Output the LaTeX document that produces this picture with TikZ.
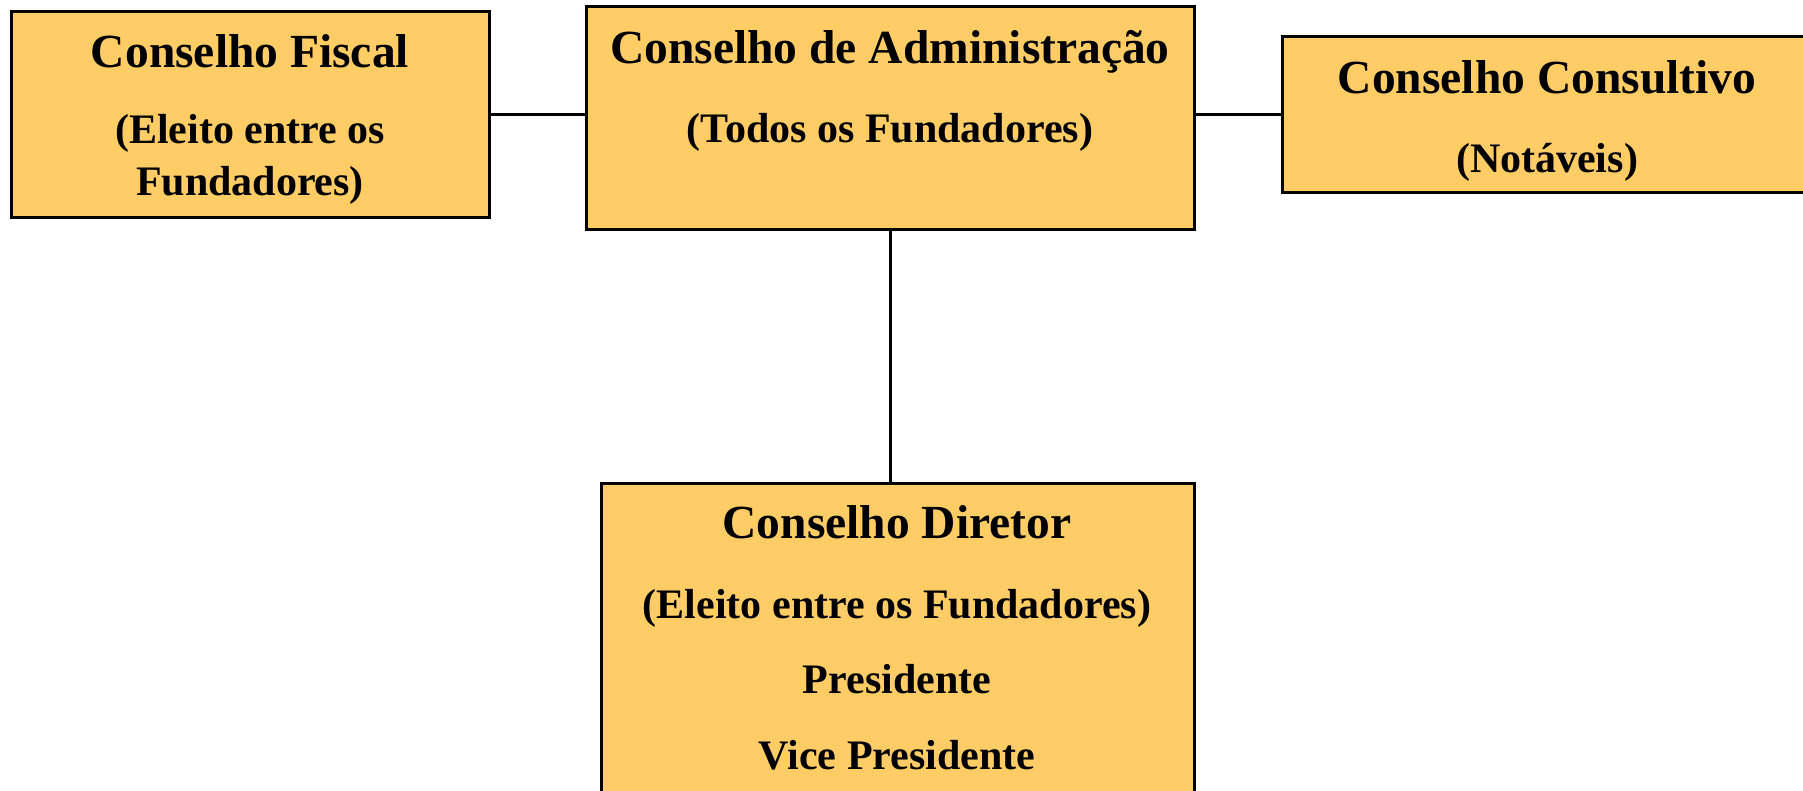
\documentclass[tikz,border=0pt]{standalone}
\usepackage{fontspec}
\setmainfont{Liberation Serif}
\definecolor{boxfill}{RGB}{255,204,102}
\begin{document}
\begin{tikzpicture}[x=1pt,y=-1pt,
  box/.style={draw=black,fill=boxfill,line width=3pt,rectangle,inner sep=0pt},
  ttl/.style={anchor=base,inner sep=0pt,font=\bfseries\fontsize{47.5}{57}\selectfont},
  sub/.style={anchor=base,inner sep=0pt,font=\bfseries\fontsize{42}{50}\selectfont},
  conn/.style={draw=black,line width=3pt}]
\useasboundingbox (0,0) rectangle (1803,790);
\fill[white] (0,0) rectangle (1803,790);
% boxes
\node[box,minimum width=478pt,minimum height=206pt] (fiscal) at (250,114) {};
\node[box,minimum width=608pt,minimum height=223pt] (admin) at (890,117.5) {};
\node[box,minimum width=530pt,minimum height=156pt] (consult) at (1547,114) {};
\node[box,minimum width=593pt,minimum height=347pt] (diretor) at (897.5,656.5) {};
% connectors
\draw[conn] (fiscal.east) -- (fiscal.east -| admin.west);
\draw[conn] (consult.west -| admin.east) -- (consult.west);
\draw[conn] (admin.south) -- (admin.south |- diretor.north);
% texts
\node[ttl] (fiscalT) at (250,67) {Conselho Fiscal};
\node[sub] (fiscalS1) at (250,143) {(Eleito entre os};
\node[sub] (fiscalS2) at (250,195) {Fundadores)};
\node[ttl] (adminT) at (890,63) {Conselho de Administração};
\node[sub] (adminS) at (890,142) {(Todos os Fundadores)};
\node[ttl] (consultT) at (1547,93) {Conselho Consultivo};
\node[sub] (consultS) at (1547,172) {(Notáveis)};
\node[ttl] (diretorT) at (897,538) {Conselho Diretor};
\node[sub] (diretorS1) at (897,618) {(Eleito entre os Fundadores)};
\node[sub] (diretorS2) at (897,693) {Presidente};
\node[sub] (diretorS3) at (897,769) {Vice Presidente};
\end{tikzpicture}
\end{document}
